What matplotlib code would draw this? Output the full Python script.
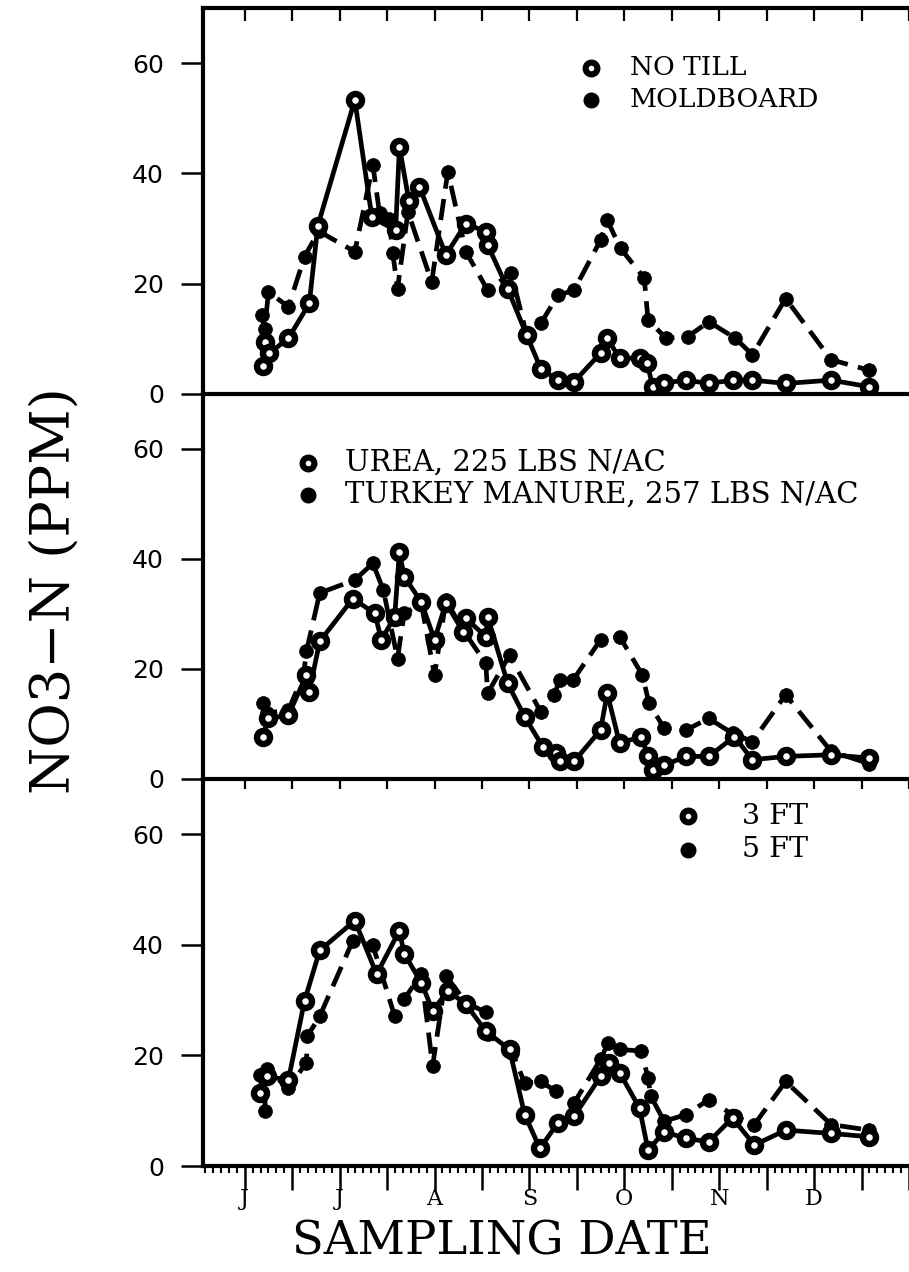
import numpy as np
import matplotlib.pyplot as plt
from matplotlib.ticker import MultipleLocator

# x = months after June 1 (0 = J, 1 = J, 2 = A, ...)
months = ['J', 'J', 'A', 'S', 'O', 'N', 'D']

# panel 1: tillage
nt_x = [0.19, 0.21, 0.26, 0.46, 0.68, 0.77, 1.16, 1.34, 1.59, 1.63, 1.73, 1.84,
        2.12, 2.33, 2.54, 2.56, 2.77, 2.97, 3.12, 3.30, 3.47, 3.75, 3.82, 3.95,
        4.16, 4.24, 4.30, 4.42, 4.65, 4.89, 5.14, 5.35, 5.70, 6.18, 6.58]
nt_y = [5.0, 9.5, 7.4, 10.1, 16.4, 30.5, 53.3, 32.0, 29.7, 44.8, 35.0, 37.6,
        25.2, 30.9, 29.4, 27.0, 19.1, 10.7, 4.6, 2.5, 2.2, 7.4, 10.1, 6.5,
        6.5, 5.6, 1.3, 2.0, 2.5, 1.9, 2.5, 2.5, 1.9, 2.5, 1.3]
mb_x = [0.18, 0.21, 0.25, 0.46, 0.63, 0.78, 1.16, 1.35, 1.42, 1.52, 1.56, 1.61,
        1.72, 1.97, 2.14, 2.33, 2.56, 2.81, 2.97, 3.12, 3.30, 3.47, 3.75, 3.82,
        3.96, 4.21, 4.25, 4.44, 4.67, 4.89, 5.17, 5.35, 5.70, 6.18, 6.58]
mb_y = [14.3, 11.7, 18.5, 15.8, 24.9, 29.5, 25.8, 41.5, 32.8, 31.8, 25.5, 19.1,
        33.0, 20.3, 40.3, 25.8, 18.8, 21.9, 10.7, 12.8, 17.9, 18.8, 27.9, 31.5,
        26.4, 21.0, 13.4, 10.1, 10.4, 13.1, 10.1, 7.1, 17.3, 6.2, 4.3]

# panel 2: N source
urea_x = [0.19, 0.25, 0.46, 0.65, 0.68, 0.79, 1.14, 1.37, 1.44, 1.58, 1.63, 1.68,
          1.86, 2.00, 2.12, 2.30, 2.33, 2.54, 2.56, 2.77, 2.95, 3.14, 3.28, 3.32,
          3.47, 3.75, 3.82, 3.95, 4.18, 4.25, 4.30, 4.42, 4.65, 4.89, 5.16, 5.35,
          5.70, 6.18, 6.58]
urea_y = [7.7, 11.0, 11.6, 18.9, 15.9, 25.0, 32.8, 30.1, 25.3, 29.5, 41.3, 36.8,
          32.2, 25.3, 32.0, 26.8, 29.2, 25.9, 29.5, 17.4, 11.3, 5.9, 4.8, 3.3,
          3.2, 8.9, 15.6, 6.5, 7.7, 4.1, 1.6, 2.5, 4.1, 4.1, 7.7, 3.5,
          4.1, 4.4, 3.8]
tm_x = [0.19, 0.23, 0.46, 0.62, 0.65, 0.79, 1.16, 1.35, 1.46, 1.61, 1.68, 1.86,
        2.00, 2.12, 2.30, 2.54, 2.56, 2.79, 3.12, 3.26, 3.32, 3.46, 3.75, 3.95,
        4.19, 4.26, 4.42, 4.65, 4.89, 5.14, 5.35, 5.70, 6.18, 6.58]
tm_y = [13.8, 12.0, 12.5, 19.0, 23.2, 33.8, 36.2, 39.2, 34.4, 21.9, 30.1, 31.9,
        18.9, 32.5, 27.1, 21.0, 15.6, 22.5, 12.2, 15.3, 18.0, 18.0, 25.3, 25.9,
        18.9, 13.8, 9.2, 8.9, 11.0, 8.3, 6.8, 15.3, 5.0, 2.8]

# panel 3: depth
ft3_x = [0.16, 0.23, 0.46, 0.63, 0.79, 1.16, 1.39, 1.63, 1.68, 1.86, 1.98, 2.14,
         2.33, 2.54, 2.79, 2.95, 3.11, 3.30, 3.47, 3.75, 3.84, 3.95, 4.16, 4.25,
         4.42, 4.65, 4.89, 5.14, 5.37, 5.70, 6.18, 6.58]
ft3_y = [13.2, 16.2, 15.6, 29.9, 39.0, 44.4, 34.7, 42.6, 38.4, 33.2, 28.1, 31.7,
         29.3, 24.4, 21.1, 9.3, 3.2, 7.8, 9.0, 16.2, 18.7, 16.9, 10.5, 2.9,
         6.2, 5.0, 4.4, 8.7, 3.8, 6.5, 5.9, 5.3]
ft5_x = [0.16, 0.21, 0.23, 0.46, 0.65, 0.66, 0.79, 1.14, 1.35, 1.58, 1.68, 1.86,
         1.98, 2.12, 2.33, 2.54, 2.56, 2.82, 2.95, 3.12, 3.28, 3.47, 3.75, 3.83,
         3.95, 4.18, 4.25, 4.28, 4.42, 4.65, 4.89, 5.17, 5.37, 5.70, 6.18, 6.58]
ft5_y = [16.5, 9.9, 17.5, 14.1, 18.7, 23.5, 27.1, 40.8, 39.9, 27.1, 30.2, 34.7,
         18.1, 34.4, 29.6, 27.8, 23.8, 20.5, 15.0, 15.3, 13.5, 11.4, 19.3, 22.3,
         21.1, 20.8, 15.9, 12.6, 8.1, 9.3, 12.0, 9.0, 7.5, 15.3, 7.5, 6.5]

legends = [
    ['NO TILL', 'MOLDBOARD'],
    ['UREA, 225 LBS N/AC', 'TURKEY MANURE, 257 LBS N/AC'],
    ['3 FT', '5 FT'],
]

SERIF = 'DejaVu Serif'

fig = plt.figure(figsize=(9.09, 12.72), dpi=100)
left, width = 203 / 909, 706 / 909
rects = [(0.6903, 0.3035), (0.3876, 0.3027), (0.0833, 0.3042)]
# legend placement in axes coords: marker x, text x, row 1 y, row 2 y, size
leg_pos = [(0.5496, 0.6048, 0.845, 0.762, 19),
           (0.1487, 0.2011, 0.821, 0.738, 21),
           (0.6870, 0.7630, 0.904, 0.817, 20.5)]
data = [(nt_x, nt_y, mb_x, mb_y), (urea_x, urea_y, tm_x, tm_y),
        (ft3_x, ft3_y, ft5_x, ft5_y)]

open_style = dict(color='black', lw=3.4, marker='o', ms=9.4, mew=4.6,
                  mfc='white', mec='black')
fill_style = dict(color='black', lw=3.4, dashes=(4.5, 2.2), marker='o', ms=10,
                  mew=0.5, mfc='black', mec='black')

xticks = np.arange(0, 7.01, 0.5)
xlabels = [months[int(t)] if t == int(t) and int(t) < len(months) else ''
           for t in xticks]

for i, ((b, h), (xo, yo, xf, yf)) in enumerate(zip(rects, data)):
    ax = fig.add_axes([left, b, width, h])
    ax.patch.set_visible(False)
    ax.plot(xf, yf, zorder=2, **fill_style)
    ax.plot(xo, yo, zorder=3, **open_style)
    ax.set_xlim(-0.44, 7.0)
    ax.set_ylim(0, 70)
    ax.set_yticks([0, 20, 40, 60])
    ax.tick_params(axis='y', direction='out', length=16, width=1.8, pad=12,
                   labelsize=18)
    for lab in ax.get_yticklabels():
        lab.set_family('DejaVu Sans')
    ax.spines['right'].set_visible(False)
    for s in ['left', 'bottom', 'top']:
        ax.spines[s].set_linewidth(3)
    if i > 0:
        ax.spines['top'].set_visible(False)
    ax.set_xticks(xticks)
    if i == 2:
        ax.set_xticklabels(xlabels, family=SERIF, fontsize=16)
        ax.xaxis.set_minor_locator(MultipleLocator(1 / 12))
        ax.tick_params(axis='x', which='major', direction='out', length=17,
                       width=1.8, pad=-1)
        ax.tick_params(axis='x', which='minor', direction='out', length=5,
                       width=1.5)
        top = ax.secondary_xaxis('top')
        top.set_xticks(xticks)
        top.set_xticklabels([])
        top.tick_params(direction='in', length=7, width=1.6)
        top.spines['top'].set_visible(False)
    else:
        ax.tick_params(axis='x', bottom=False, labelbottom=False)
        if i == 0:
            ax.tick_params(axis='x', top=True, direction='in', length=9,
                           width=1.6)

    mx, tx, y1, y2, fs = leg_pos[i]
    ax.plot([mx], [y1], transform=ax.transAxes, clip_on=False, zorder=4,
            ls='none', marker='o', ms=8.5, mew=4.4, mfc='white', mec='black')
    ax.plot([mx], [y2], transform=ax.transAxes, clip_on=False, zorder=4,
            ls='none', marker='o', ms=10.5, mfc='black', mec='black')
    for yy, txt in zip([y1, y2], legends[i]):
        ax.text(tx, yy, txt, transform=ax.transAxes, family=SERIF,
                fontsize=fs, va='center', ha='left')

fig.text(0.0605, 0.536, 'NO3\u2212N (PPM)', rotation=90, family=SERIF,
         fontsize=39, va='center', ha='center')
fig.text(0.552, 0.0236, 'SAMPLING DATE', family=SERIF, fontsize=33.5,
         va='center', ha='center')

fig.savefig('out.png', dpi=100)
